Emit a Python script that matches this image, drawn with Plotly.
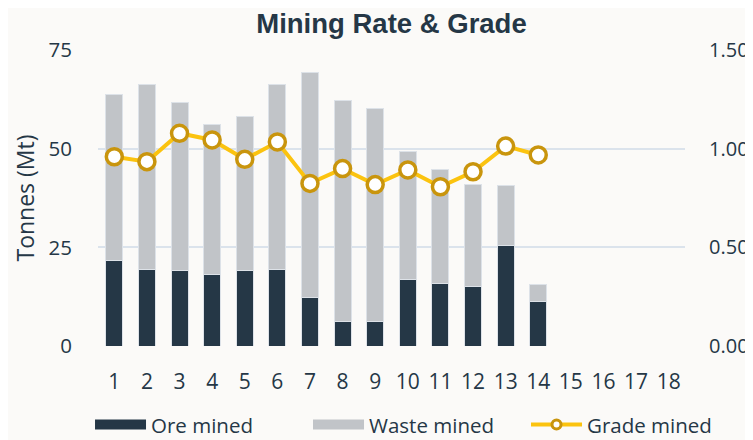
"""Mining rate & grade: stacked ore/waste bars with grade line on a secondary axis."""

import plotly.graph_objects as go

# data
periods = [str(i) for i in range(1, 19)]
bar_periods = [str(i) for i in range(1, 15)]
ore_mined = [21.6, 19.3, 19.1, 18.2, 19.1, 19.5, 12.3, 6.3, 6.1, 16.8, 15.9, 15.2, 25.4, 11.4]
waste_mined = [42.0, 47.0, 42.7, 38.0, 39.1, 46.8, 56.9, 56.0, 54.2, 32.4, 28.9, 25.8, 15.2, 4.1]
grade_mined = [0.959, 0.934, 1.078, 1.044, 0.946, 1.034, 0.824, 0.899, 0.818,
               0.892, 0.807, 0.883, 1.013, 0.968]
left_ticks = [0, 25, 50, 75]
right_ticks = [0.0, 0.5, 1.0, 1.5]

NAVY = "#253746"
GREY = "#c1c4c8"
GOLD_LINE = "#fbc30f"
GOLD_EDGE = "#c9950d"
BG = "#fbfaf8"
GRID = "#dbe3ec"
FONT = "Open Sans"

fig = go.Figure()

fig.add_trace(go.Bar(
    x=bar_periods, y=ore_mined, name="Ore mined", showlegend=False,
    marker=dict(color=NAVY, line=dict(color="#dde2e8", width=1)),
))
fig.add_trace(go.Bar(
    x=bar_periods, y=waste_mined, name="Waste mined", showlegend=False,
    marker=dict(color=GREY, line=dict(color="#dde2e8", width=1)),
))
fig.add_trace(go.Scatter(
    x=bar_periods, y=grade_mined, name="Grade mined", yaxis="y2", showlegend=False,
    mode="lines+markers",
    line=dict(color=GOLD_LINE, width=4),
    marker=dict(size=16, color="white", line=dict(color=GOLD_EDGE, width=3.5)),
))

# legend entries (wide swatches like the original)
fig.add_trace(go.Scatter(x=[None], y=[None], name="Ore mined", mode="lines",
                         line=dict(color=NAVY, width=15)))
fig.add_trace(go.Scatter(x=[None], y=[None], name="Waste mined", mode="lines",
                         line=dict(color=GREY, width=15)))
fig.add_trace(go.Scatter(x=[None], y=[None], name="Grade mined", mode="lines+markers",
                         line=dict(color=GOLD_LINE, width=4),
                         marker=dict(size=9, color="white", line=dict(color=GOLD_EDGE, width=3))))

# page body adds an 8px margin, so the figure is sized to the visible area
fig.update_layout(
    width=745, height=432,
    margin=dict(l=90, r=68, t=42, b=94, autoexpand=False),
    paper_bgcolor=BG, plot_bgcolor=BG,
    barmode="stack", bargap=0.48,
    font=dict(family=FONT, size=21, color=NAVY),
    title=dict(
        text="<b>Mining Rate & Grade</b>",
        font=dict(family="Liberation Sans", size=27.5, color=NAVY),
        x=0.5, xref="paper", xanchor="center",
        y=0.964, yref="container", yanchor="middle",
    ),
    xaxis=dict(
        type="category", categoryorder="array", categoryarray=periods,
        range=[-0.5, 17.5], showgrid=False, zeroline=False, showline=False,
        ticks="", ticklabelstandoff=21,
    ),
    yaxis=dict(
        range=[0, 75], tickvals=left_ticks, showgrid=True, gridcolor=GRID, gridwidth=2,
        zeroline=False, showline=False, ticks="", ticklabelstandoff=25,
        tickfont=dict(size=20.5),
        title=dict(text="Tonnes (Mt)", font=dict(size=23), standoff=7),
    ),
    yaxis2=dict(
        overlaying="y", side="right", range=[0, 1.5], tickvals=right_ticks,
        tickformat=".2f", showgrid=False, zeroline=False, showline=False,
        ticks="", ticklabelstandoff=23, tickfont=dict(size=20),
    ),
    legend=dict(
        orientation="h", traceorder="normal",
        x=-0.0136, xanchor="left", y=-0.266, yanchor="middle",
        itemwidth=51, entrywidth=152, font=dict(size=20.5), bgcolor="rgba(0,0,0,0)",
    ),
    hovermode=False,
)

fig.write_html("out.html")
